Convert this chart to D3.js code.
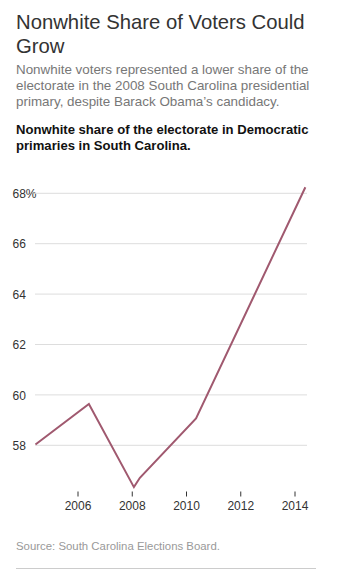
<!DOCTYPE html>
<html><head><meta charset="utf-8">
<script src="https://cdn.jsdelivr.net/npm/d3@7"></script>
<style>
html,body{margin:0;padding:0;background:#fff;}
svg{display:block;font-family:"Liberation Sans",Arial,Helvetica,sans-serif;}
</style></head>
<body>
<svg id="chart" width="341" height="574"></svg>
<script>
const titleLines = ["Nonwhite Share of Voters Could", "Grow"];
const subtitleLines = ["Nonwhite voters represented a lower share of the",
  "electorate in the 2008 South Carolina presidential",
  "primary, despite Barack Obama\u2019s candidacy."];
const chartTitleLines = ["Nonwhite share of the electorate in Democratic",
  "primaries in South Carolina."];
const sourceText = "Source: South Carolina Elections Board.";

const years  = [2004.45, 2006.42, 2008.08, 2008.30, 2010.37, 2014.40];
const shares = [58.03, 59.64, 56.34, 56.71, 59.07, 68.24];
const yTicks = [58, 60, 62, 64, 66, 68];
const xTicks = [2006, 2008, 2010, 2012, 2014];

const svg = d3.select("#chart");

const t = svg.append("g");
t.selectAll("text.title").data(titleLines).join("text")
  .attr("x", 16).attr("y", (d,i)=>28.5 + i*24.5)
  .attr("font-size", 20.3).attr("fill", "#333").attr("font-weight", 300)
  .text(d=>d);
t.selectAll("text.sub").data(subtitleLines).join("text")
  .attr("x", 16).attr("y", (d,i)=>74 + i*16)
  .attr("font-size", 13.4).attr("fill", "#777")
  .text(d=>d);
t.selectAll("text.ct").data(chartTitleLines).join("text")
  .attr("x", 16).attr("y", (d,i)=>133.5 + i*16)
  .attr("font-size", 13.1).attr("font-weight", "bold").attr("fill", "#111")
  .text(d=>d);

const x = d3.scaleLinear().domain([2006, 2014]).range([77.5, 294.5]);
const y = d3.scaleLinear().domain([58, 68]).range([445.3, 193.3]);

// y labels
const yAxis = d3.axisLeft(y).tickValues(yTicks).tickSize(0)
  .tickFormat(d => d === 68 ? "68%" : d);
const gy = svg.append("g").attr("transform", "translate(12.5,0)").call(yAxis);
gy.select(".domain").remove();
gy.selectAll("text").attr("text-anchor", "start").attr("x", 0).attr("dy", "0.35em")
  .attr("font-size", 12).attr("fill", "#333").attr("font-family", "'Liberation Sans', Arial, sans-serif");
// gridlines
svg.append("g").selectAll("line").data(yTicks).join("line")
  .attr("x1", 35).attr("x2", 307)
  .attr("y1", d=>y(d)).attr("y2", d=>y(d))
  .attr("stroke", "#ddd").attr("stroke-width", 1);

// x axis
const xAxis = d3.axisBottom(x).tickValues(xTicks).tickSize(5).tickPadding(5)
  .tickFormat(d3.format("d"));
const gx = svg.append("g").attr("transform", "translate(0,491.5)").call(xAxis);
gx.select(".domain").remove();
gx.selectAll("line").attr("stroke", "#333");
gx.selectAll("text").attr("font-size", 12).attr("fill", "#333")
  .attr("font-family", "'Liberation Sans', Arial, sans-serif");

// line
const data = years.map((yr,i)=>({yr, v: shares[i]}));
svg.append("path").datum(data)
  .attr("fill", "none").attr("stroke", "#a0596f").attr("stroke-width", 2)
  .attr("stroke-linejoin", "miter")
  .attr("d", d3.line().x(d=>x(d.yr)).y(d=>y(d.v)));

// source
svg.append("text").attr("x", 16).attr("y", 550)
  .attr("font-size", 11.4).attr("fill", "#999").text(sourceText);
svg.append("line").attr("x1", 16).attr("x2", 316).attr("y1", 568.5).attr("y2", 568.5)
  .attr("stroke", "#ccc").attr("stroke-width", 1);
</script>
</body></html>
